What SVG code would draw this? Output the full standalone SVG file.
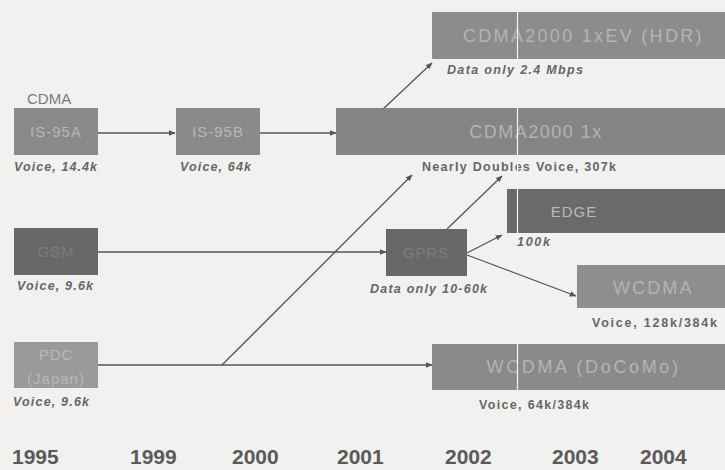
<svg xmlns="http://www.w3.org/2000/svg" width="725" height="470" viewBox="0 0 725 470">
<defs>
<marker id="ah" viewBox="0 0 10 10" refX="9" refY="5" markerWidth="7" markerHeight="7" markerUnits="userSpaceOnUse" orient="auto">
<path d="M0,1 L10,5 L0,9 Z" fill="#555"/>
</marker>
<style>
.bx{stroke:none}
.mid{fill:#8a8a8a}
.drk{fill:#686868}
.lt{fill:#9a9a9a}
.bt{font-family:"Liberation Sans",Arial,sans-serif;font-size:18px;fill:#b4b4b4;text-anchor:middle;letter-spacing:1.5px}
.bts{font-family:"Liberation Sans",Arial,sans-serif;font-size:15px;fill:#b8b8b8;text-anchor:middle;letter-spacing:1px}
.dt{fill:#7c7c7c}
.sub{font-family:"Liberation Sans",Arial,sans-serif;font-size:12.5px;font-weight:bold;font-style:italic;fill:#666}
.subn{font-family:"Liberation Sans",Arial,sans-serif;font-size:12.5px;font-weight:bold;fill:#666}
.yr{font-family:"Liberation Sans",Arial,sans-serif;font-size:21px;font-weight:bold;fill:#5a5a5a}
.cn{stroke:#555;stroke-width:1.3;fill:none}
.wl{stroke:#f4f4f4;stroke-width:1.2}
</style>
</defs>
<rect width="725" height="470" fill="#f1f1ef"/>

<text x="27" y="104" font-family="Liberation Sans,Arial,sans-serif" font-size="15" fill="#7a7a7a">CDMA</text>

<g id="connectors">
<line class="cn" x1="98" y1="133" x2="175" y2="133" marker-end="url(#ah)"/>
<line class="cn" x1="260" y1="133" x2="336" y2="133" marker-end="url(#ah)"/>
<line class="cn" x1="382" y1="110" x2="432" y2="63" marker-end="url(#ah)"/>
<line class="cn" x1="98" y1="252" x2="386" y2="252" marker-end="url(#ah)"/>
<line class="cn" x1="98" y1="365" x2="432" y2="365" marker-end="url(#ah)"/>
<line class="cn" x1="222" y1="365" x2="412" y2="175" marker-end="url(#ah)"/>
<line class="cn" x1="447" y1="229" x2="502" y2="176" marker-end="url(#ah)"/>
<line class="cn" x1="467" y1="253" x2="502" y2="235" marker-end="url(#ah)"/>
<line class="cn" x1="467" y1="255" x2="576" y2="296" marker-end="url(#ah)"/>
</g>

<g id="is95a">
<rect class="bx mid" x="14" y="108" width="84" height="47"/>
<text class="bts" x="56" y="137">IS-95A</text>
<text class="sub" x="14" y="171" textLength="83">Voice, 14.4k</text>
</g>

<g id="is95b">
<rect class="bx mid" x="176" y="108" width="84" height="47"/>
<text class="bts" x="218" y="137">IS-95B</text>
<text class="sub" x="180" y="171" textLength="71">Voice, 64k</text>
</g>

<g id="cdma2000-1x">
<rect class="bx" fill="#858585" x="336" y="108" width="389" height="47"/>
<text class="bt" x="536" y="138">CDMA2000 1x</text>
<text class="subn" x="422" y="171" textLength="194">Nearly Doubles Voice, 307k</text>
</g>

<g id="cdma2000-1xev">
<rect class="bx" fill="#8c8c8c" x="432" y="12" width="293" height="47"/>
<text class="bt" x="583" y="42" textLength="240">CDMA2000 1xEV (HDR)</text>
<text class="sub" x="447" y="74" textLength="136">Data only 2.4 Mbps</text>
</g>

<g id="gsm">
<rect class="bx drk" x="14" y="228" width="84" height="47"/>
<text class="bts dt" x="56" y="257">GSM</text>
<text class="sub" x="17" y="290" textLength="76">Voice, 9.6k</text>
</g>

<g id="gprs">
<rect class="bx drk" x="386" y="229" width="81" height="47"/>
<text class="bts dt" x="426" y="258">GPRS</text>
<text class="sub" x="370" y="293" textLength="117">Data only 10-60k</text>
</g>

<g id="edge">
<rect class="bx" fill="#6a6a6a" x="507" y="189" width="218" height="44"/>
<text class="bts" fill="#8a8a8a" x="574" y="217">EDGE</text>
<text class="sub" x="517" y="246" textLength="33">100k</text>
</g>

<g id="wcdma">
<rect class="bx" fill="#8e8e8e" x="577" y="265" width="148" height="43"/>
<text class="bt" x="653" y="294" textLength="80">WCDMA</text>
<text class="subn" x="592" y="327" textLength="125">Voice, 128k/384k</text>
</g>

<g id="pdc">
<rect class="bx lt" x="14" y="342" width="84" height="46"/>
<text class="bts" font-size="14" x="56" y="360" letter-spacing="0.5">PDC</text>
<text class="bts" font-size="14" x="56" y="384" letter-spacing="0.5">(Japan)</text>
<text class="sub" x="13" y="406" textLength="76">Voice, 9.6k</text>
</g>

<g id="wcdma-docomo">
<rect class="bx" fill="#8a8a8a" x="432" y="344" width="293" height="46"/>
<text class="bt" x="583" y="373" textLength="193">WCDMA (DoCoMo)</text>
<text class="subn" x="479" y="409" textLength="110">Voice, 64k/384k</text>
</g>

<line class="wl" x1="517.5" y1="10" x2="517.5" y2="245"/>
<line class="wl" x1="517.5" y1="344" x2="517.5" y2="398"/>

<g id="years">
<text class="yr" x="12" y="464">1995</text>
<text class="yr" x="130" y="464">1999</text>
<text class="yr" x="232" y="464">2000</text>
<text class="yr" x="337" y="464">2001</text>
<text class="yr" x="445" y="464">2002</text>
<text class="yr" x="552" y="464">2003</text>
<text class="yr" x="640" y="464">2004</text>
</g>
</svg>
